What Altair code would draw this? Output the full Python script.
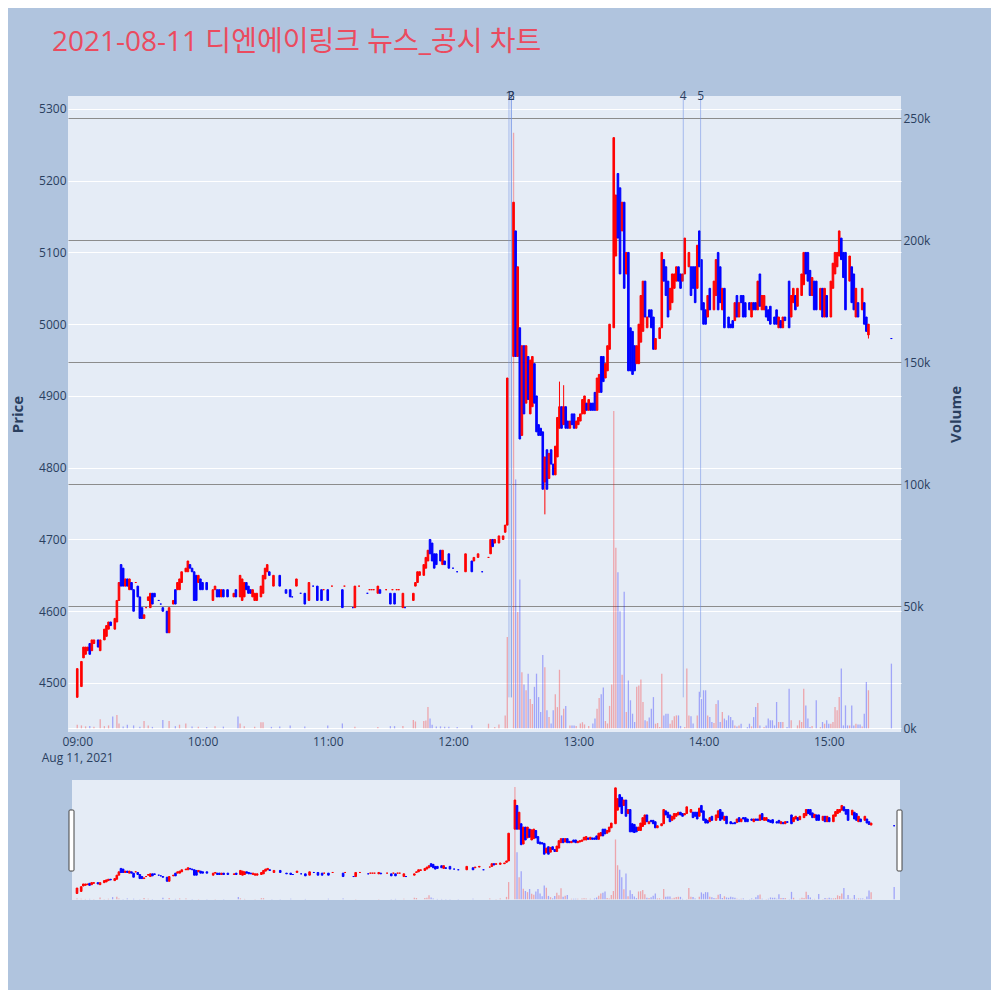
import altair as alt
import pandas as pd

TITLE = "2021-08-11 디엔에이링크 뉴스_공시 차트"

# ---- candles: minute after 09:00, open, close ----
candle_min = [
    0, 2, 3, 4, 5, 6, 7, 8, 10, 11,
    13, 14, 15, 16, 18, 19, 20, 21, 22, 23,
    24, 25, 26, 27, 28, 29, 30, 31, 32, 33,
    34, 35, 36, 37, 39, 40, 41, 43, 44, 46,
    47, 48, 49, 50, 52, 53, 54, 55, 56, 57,
    58, 59, 60, 62, 65, 66, 67, 68, 69, 70,
    72, 75, 76, 78, 79, 80, 81, 82, 83, 84,
    85, 86, 88, 89, 90, 91, 92, 94, 97, 100,
    102, 103, 105, 107, 109, 111, 113, 115, 117, 118,
    120, 122, 127, 128, 132, 133, 135, 139, 140, 141,
    142, 144, 145, 148, 150, 151, 152, 153, 154, 156,
    157, 161, 162, 163, 164, 166, 167, 168, 169, 170,
    171, 172, 174, 175, 176, 178, 180, 182, 186, 189,
    190, 192, 194, 197, 198, 199, 200, 202, 204, 205,
    206, 209, 210, 211, 212, 213, 214, 215, 216, 217,
    218, 219, 220, 221, 222, 223, 224, 225, 226, 227,
    228, 229, 230, 231, 232, 233, 234, 235, 236, 237,
    238, 239, 240, 241, 242, 243, 244, 245, 246, 247,
    248, 249, 250, 251, 252, 253, 254, 255, 257, 258,
    259, 260, 261, 262, 263, 264, 265, 266, 267, 268,
    269, 270, 271, 272, 273, 274, 275, 276, 277, 279,
    280, 281, 282, 283, 284, 285, 286, 287, 288, 289,
    290, 291, 293, 294, 295, 296, 297, 298, 299, 300,
    301, 302, 303, 305, 306, 307, 308, 309, 310, 312,
    313, 314, 315, 316, 317, 318, 319, 320, 322, 323,
    324, 325, 326, 327, 328, 329, 330, 331, 332, 334,
    335, 336, 337, 338, 339, 341, 342, 343, 344, 345,
    347, 348, 349, 350, 351, 352, 353, 354, 356, 357,
    358, 359, 361, 362, 363, 364, 365, 366, 367, 368,
    370, 371, 372, 373, 374, 376, 377, 378, 379, 390,
]
candle_open = [
    4480, 4495, 4535, 4540, 4545, 4555, 4545, 4555, 4560, 4545,
    4560, 4565, 4575, 4585, 4575, 4585, 4615, 4665, 4660, 4635,
    4645, 4630, 4640, 4630, 4640, 4635, 4620, 4605, 4590, 4605,
    4615, 4605, 4625, 4625, 4615, 4610, 4605, 4600, 4570, 4610,
    4630, 4630, 4630, 4640, 4655, 4655, 4665, 4660, 4655, 4650,
    4640, 4645, 4640, 4640, 4615, 4630, 4630, 4630, 4620, 4630,
    4630, 4620, 4630, 4620, 4615, 4620, 4640, 4635, 4630, 4620,
    4615, 4615, 4620, 4625, 4645, 4655, 4655, 4635, 4650, 4630,
    4630, 4620, 4635, 4625, 4625, 4615, 4635, 4635, 4630, 4630,
    4630, 4635, 4630, 4635, 4605, 4605, 4635, 4625, 4630, 4630,
    4630, 4625, 4630, 4630, 4625, 4630, 4625, 4630, 4630, 4605,
    4605, 4615, 4635, 4640, 4650, 4650, 4660, 4670, 4700, 4695,
    4680, 4680, 4685, 4665, 4670, 4680, 4660, 4655, 4655, 4670,
    4670, 4675, 4655, 4675, 4680, 4700, 4695, 4695, 4700, 4710,
    4720, 4955, 5130, 4955, 4995, 4845, 4970, 4890, 4955, 4875,
    4885, 4945, 4900, 4860, 4855, 4850, 4780, 4825, 4785, 4825,
    4805, 4790, 4815, 4855, 4885, 4860, 4885, 4865, 4855, 4875,
    4875, 4855, 4860, 4865, 4875, 4875, 4890, 4880, 4890, 4890,
    4905, 4880, 4905, 4955, 4955, 4925, 4935, 4965, 4995, 5095,
    5210, 5190, 5130, 5170, 5070, 5100, 4995, 4990, 4970, 4945,
    4945, 4975, 4990, 5060, 4995, 5020, 5020, 5010, 4965, 4980,
    4995, 5090, 5080, 5060, 5020, 5030, 5050, 5060, 5080, 5070,
    5060, 5070, 5080, 5080, 5080, 5080, 5050, 5130, 5090, 5030,
    5020, 5010, 5050, 5020, 5040, 5100, 5080, 5020, 5050, 5010,
    5000, 5005, 5005, 5040, 5010, 5040, 5040, 5030, 5030, 5010,
    5030, 5030, 5020, 5070, 5020, 5020, 5025, 5020, 5025, 5010,
    5020, 4995, 5005, 4995, 5010, 5060, 5010, 5030, 5040, 5025,
    5040, 5055, 5100, 5100, 5075, 5040, 5060, 5060, 5020, 5050,
    5010, 5040, 5010, 5050, 5070, 5080, 5095, 5120, 5100, 5100,
    5060, 5080, 5070, 5010, 5030, 5020, 5030, 5010, 4985, 4980,
]
candle_close = [
    4520, 4530, 4550, 4550, 4550, 4540, 4560, 4560, 4550, 4560,
    4575, 4580, 4585, 4580, 4590, 4615, 4640, 4635, 4635, 4645,
    4635, 4645, 4630, 4600, 4640, 4620, 4590, 4590, 4595, 4605,
    4620, 4625, 4610, 4620, 4615, 4610, 4600, 4570, 4605, 4615,
    4610, 4640, 4645, 4655, 4660, 4670, 4660, 4655, 4615, 4615,
    4650, 4630, 4630, 4630, 4630, 4635, 4620, 4620, 4630, 4620,
    4620, 4625, 4620, 4650, 4645, 4640, 4630, 4625, 4625, 4630,
    4625, 4625, 4635, 4650, 4660, 4665, 4650, 4650, 4635, 4625,
    4620, 4620, 4645, 4625, 4610, 4640, 4635, 4615, 4615, 4630,
    4615, 4635, 4605, 4635, 4605, 4635, 4635, 4625, 4630, 4630,
    4630, 4635, 4625, 4630, 4610, 4630, 4610, 4630, 4630, 4625,
    4605, 4625, 4640, 4655, 4655, 4665, 4675, 4685, 4680, 4670,
    4660, 4665, 4670, 4685, 4665, 4660, 4660, 4655, 4680, 4655,
    4675, 4680, 4655, 4675, 4700, 4690, 4700, 4705, 4705, 4720,
    4925, 5170, 4955, 5080, 4840, 4970, 4875, 4970, 4895, 4950,
    4955, 4890, 4850, 4845, 4845, 4770, 4815, 4770, 4820, 4805,
    4790, 4830, 4870, 4885, 4855, 4885, 4855, 4855, 4865, 4860,
    4855, 4865, 4870, 4875, 4895, 4900, 4880, 4895, 4880, 4880,
    4880, 4925, 4930, 4905, 4920, 4945, 4970, 5000, 5260, 5180,
    5120, 5070, 5170, 5050, 5100, 4935, 4935, 4930, 4935, 4970,
    5000, 5040, 5060, 5010, 5010, 5010, 4995, 4965, 4980, 4995,
    5100, 5060, 5040, 5010, 5050, 5070, 5070, 5080, 5060, 5050,
    5070, 5120, 5100, 5040, 5050, 5030, 5110, 5080, 5020, 5000,
    5000, 5040, 5020, 5060, 5090, 5020, 5030, 5050, 4995, 4995,
    4995, 4995, 5030, 5010, 5030, 5030, 5010, 5010, 5020, 5030,
    5020, 5020, 5060, 5025, 5040, 5040, 5010, 5005, 5000, 5000,
    5000, 5010, 4995, 5010, 5005, 4995, 5040, 5050, 5020, 5050,
    5070, 5100, 5070, 5060, 5040, 5065, 5020, 5020, 5050, 5010,
    5050, 5010, 5060, 5085, 5100, 5100, 5130, 5090, 5065, 5020,
    5095, 5030, 5020, 5050, 5010, 5050, 5000, 4990, 5000, 4980,
]

# visible wicks
wick_min = [224, 231, 233, 379]
wick_low = [4735, 4855, 4860, 4980]
wick_high = [4815, 4920, 4915, 5000]

# ---- volume per minute ----
vol_min = [
    0, 2, 4, 6, 8, 11, 13, 15, 17, 19,
    20, 22, 24, 27, 30, 32, 34, 36, 41, 44,
    47, 49, 52, 55, 58, 62, 66, 70, 77, 78,
    80, 85, 88, 89, 93, 97, 102, 109, 120, 127,
    133, 144, 150, 152, 156, 161, 162, 166, 167, 168,
    169, 170, 172, 174, 176, 178, 182, 189, 197, 200,
    202, 205, 206,
    209, 210, 211, 212, 213, 214, 215, 216, 217, 218,
    219, 220, 221, 222, 223, 224, 225, 226, 227, 228,
    229, 230, 231, 232, 233, 234, 236, 237, 238, 239,
    241, 242, 243, 245, 247, 248, 249, 250, 251, 252,
    253, 254, 255, 256, 257, 258, 259, 260, 261, 262,
    263, 264, 265, 266, 267, 268, 269, 270, 271, 272,
    273, 274, 275, 276, 277, 278, 279, 280, 281, 282,
    283, 284, 285, 286, 287, 288, 289, 291, 292, 293,
    294, 295, 297, 298, 299, 300, 301, 302, 303, 304,
    305, 306, 307, 308, 309, 310, 311, 312, 313, 314,
    315, 316, 317, 318, 321, 322, 323, 324, 325, 326,
    327, 329, 330, 331, 332, 333, 334, 335, 336, 337,
    338, 340, 341, 342, 345, 346, 347, 348, 349, 350,
    351, 352, 354, 356, 357, 358, 359, 360, 361, 362,
    363, 364, 365, 366, 367, 368, 369, 370, 371, 372,
    373, 374, 375, 376, 377, 378, 379, 390,
]
vol_val = [
    1500, 1200, 800, 1000, 700, 3700, 900, 1200, 4800, 5500,
    2000, 800, 1500, 1200, 700, 3000, 1200, 600, 3400, 3000,
    900, 1500, 2000, 800, 600, 500, 900, 700, 4800, 2000,
    900, 600, 2500, 2500, 600, 800, 1200, 800, 1200, 2000,
    600, 500, 900, 900, 1000, 3400, 2800, 3000, 3200, 8700,
    4000, 1500, 800, 800, 700, 700, 500, 1300, 1900, 500,
    1600, 5300, 37400,
    244000, 102000, 47700, 61000, 23000, 18000, 15600, 22400, 12000, 10000,
    17000, 22400, 12800, 6700, 30000, 25000, 7400, 4600, 2000, 7400,
    14000, 8700, 24000, 5300, 8000, 9200, 1200, 1200, 1200, 1000,
    2000, 2500, 1600, 1000, 2000, 4000, 8000, 12400, 14000, 16700,
    3000, 2000, 9200, 18000, 130000, 74000, 64000, 48000, 22000, 56000,
    6700, 19600, 11500, 6000, 2600, 17000, 17600, 20000, 10800, 3300,
    2900, 4400, 8000, 12800, 1900, 2200, 500, 22400, 5300, 6000,
    6000, 1900, 3300, 5000, 5300, 5300, 1000, 500, 24500, 5300,
    5000, 2000, 5300, 15000, 12000, 15600, 15600, 5300, 4600, 2600,
    2200, 10000, 11500, 2600, 6700, 4000, 3300, 5300, 4600, 3300,
    1200, 800, 1200, 1900, 500, 1900, 800, 4600, 8700, 10400,
    1200, 500, 1200, 4000, 3300, 3300, 1200, 10800, 2600, 2600,
    2600, 500, 16200, 3300, 1200, 3300, 2600, 16200, 9400, 4000,
    500, 1000, 11500, 500, 2600, 1900, 3300, 1900, 1900, 2600,
    8700, 7400, 12800, 24500, 1200, 9400, 1200, 1200, 9400, 1200,
    1900, 1600, 1600, 800, 6000, 19000, 15600, 26500,
]

# ---- news / disclosure markers ----
news_min = [206.8, 207.9, 208.0, 290.3, 298.6]
news_label = ["1", "2", "3", "4", "5"]

price_ticks = [4500, 4600, 4700, 4800, 4900, 5000, 5100, 5200, 5300]
vol_ticks = [0, 50000, 100000, 150000, 200000, 250000]
hour_ticks = [0, 60, 120, 180, 240, 300, 360]

X_DOMAIN = [-2.03, 392.2]
PRICE_DOMAIN = [4431.7, 5318]
VOL_DOMAIN = [-1500, 259100]
NEWS_LOW, NEWS_HIGH = 4480, 5318

UP, DOWN = "#FF0000", "#0000FF"
INK = "#2a3f5f"
FONT = "Open Sans"
TITLE_FONT = "Open Sans, Noto Sans CJK KR"

# ---- tables ----
dirs = []
prev_c, prev_d = None, "up"
for o, c in zip(candle_open, candle_close):
    if c > o:
        d = "up"
    elif c < o:
        d = "down"
    elif prev_c is not None and c > prev_c:
        d = "up"
    elif prev_c is not None and c < prev_c:
        d = "down"
    else:
        d = prev_d
    dirs.append(d)
    prev_c, prev_d = c, d

cd = pd.DataFrame({"m": candle_min, "o": candle_open, "c": candle_close, "dir": dirs})
wd = pd.DataFrame({"m": wick_min, "o": wick_low, "c": wick_high}).merge(cd[["m", "dir"]], on="m")
vd = pd.DataFrame({"m": vol_min, "v": vol_val}).sort_values("m")
vd = pd.merge_asof(vd, cd[["m", "dir"]].sort_values("m"), on="m", direction="nearest")
nd = pd.DataFrame({"m": news_min, "label": news_label,
                   "o": [NEWS_LOW] * len(news_min), "c": [NEWS_HIGH] * len(news_min)})
td = pd.DataFrame({"t": [TITLE]})
one = pd.DataFrame({"k": [0]})

cscale = alt.Scale(domain=["up", "down"], range=[UP, DOWN])
xs = alt.Scale(domain=X_DOMAIN, nice=False, zero=False)
ps = alt.Scale(domain=PRICE_DOMAIN, nice=False, zero=False)
vs = alt.Scale(domain=VOL_DOMAIN, nice=False, zero=False)

x_axis = alt.Axis(
    values=hour_ticks, title=None, grid=False, domain=False, ticks=False,
    labelPadding=4, labelLineHeight=16, labelFontSize=12, labelColor=INK, labelFont=FONT,
    labelExpr="datum.value == 0 ? ['09:00', 'Aug 11, 2021'] : format(9 + datum.value / 60, '02d') + ':00'",
)
price_axis = alt.Axis(
    orient="left", values=price_ticks, format="d", title="Price",
    grid=True, gridColor="white", gridWidth=1, domain=False, ticks=False,
    labelPadding=2, labelFontSize=12, labelColor=INK, labelFont=FONT,
    titleFontSize=15, titleFontWeight="bold", titleColor=INK, titleFont=FONT,
    titleAngle=270, titleBaseline="bottom", titleAlign="center", titleX=-43, titleY=318,
)
vol_axis = alt.Axis(
    orient="right", values=vol_ticks, format="~s", title="Volume",
    grid=True, gridWidth=1,
    gridColor={"condition": {"test": "datum.value === 0", "value": "#ffffff"}, "value": "#8c8c8c"},
    domain=False, ticks=False,
    labelPadding=2, labelFontSize=12, labelColor=INK, labelFont=FONT,
    titleFontSize=15, titleFontWeight="bold", titleColor=INK, titleFont=FONT,
    titleAngle=270, titleBaseline="bottom", titleAlign="center", titleX=62, titleY=318,
)

X = alt.X("m:Q", scale=xs, axis=x_axis, title=None)
PY = alt.Y("o:Q", scale=ps, axis=price_axis, title="Price")
PY2 = alt.Y2("c:Q")

# ---- main panel ----
vol_layer = alt.Chart(vd).mark_bar(size=1.3, opacity=0.3).encode(
    x=X,
    y=alt.Y("v:Q", scale=vs, axis=vol_axis, title="Volume"),
    y2=alt.datum(0),
    color=alt.Color("dir:N", scale=cscale, legend=None),
)
wicks = alt.Chart(wd).mark_rule(strokeWidth=1).encode(
    x=X, y=PY, y2=PY2,
    color=alt.Color("dir:N", scale=cscale, legend=None),
)
candles = alt.Chart(cd).mark_bar(size=1.6, strokeWidth=1).encode(
    x=X, y=PY, y2=PY2,
    fill=alt.Fill("dir:N", scale=cscale, legend=None),
    stroke=alt.Stroke("dir:N", scale=cscale, legend=None),
)
news_rules = alt.Chart(nd).mark_rule(color="#6f8fe6", opacity=0.55, strokeWidth=1).encode(
    x=X, y=PY, y2=PY2,
)
news_text = alt.Chart(nd).mark_text(fontSize=12, color=INK, font=FONT, baseline="middle").encode(
    x=X,
    y=alt.Y("c:Q", scale=ps, axis=price_axis, title="Price"),
    text="label:N",
)
title_text = alt.Chart(td).mark_text(
    fontSize=28, color="#EB4B5F", font=TITLE_FONT, align="left", baseline="alphabetic"
).encode(x=alt.value(-16), y=alt.value(-45), text="t:N")

price_layer = alt.layer(wicks, candles, news_rules, news_text, title_text)
main = alt.layer(vol_layer, price_layer).resolve_scale(y="independent").properties(
    width=833, height=636
)

# ---- range slider panel ----
xs_s = alt.Scale(domain=[0, 390.4], range=[4, 832], nice=False, zero=False)
s_bg = alt.Chart(one).mark_rect(color="#E5ECF6").encode(
    x=alt.value(4), x2=alt.value(832), y=alt.value(0), y2=alt.value(120)
)
s_vol = alt.Chart(vd).mark_bar(size=1.3, opacity=0.3).encode(
    x=alt.X("m:Q", scale=xs_s, axis=None),
    y=alt.Y("v:Q", scale=vs, axis=None),
    y2=alt.datum(0),
    color=alt.Color("dir:N", scale=cscale, legend=None),
)
s_candles = alt.Chart(cd).mark_bar(size=1.6, strokeWidth=1).encode(
    x=alt.X("m:Q", scale=xs_s, axis=None),
    y=alt.Y("o:Q", scale=ps, axis=None),
    y2="c:Q",
    fill=alt.Fill("dir:N", scale=cscale, legend=None),
    stroke=alt.Stroke("dir:N", scale=cscale, legend=None),
)
h_left = alt.Chart(one).mark_rect(fill="white", stroke="#444444", strokeWidth=1, cornerRadius=1).encode(
    x=alt.value(1), x2=alt.value(6), y=alt.value(30), y2=alt.value(91)
)
h_right = alt.Chart(one).mark_rect(fill="white", stroke="#444444", strokeWidth=1, cornerRadius=1).encode(
    x=alt.value(829), x2=alt.value(834), y=alt.value(30), y2=alt.value(91)
)
slider = alt.layer(s_bg, s_vol, s_candles, h_left, h_right).resolve_scale(y="independent").properties(
    width=833, height=120, view=alt.ViewBackground(fill="transparent", strokeWidth=0)
)

chart = alt.vconcat(main, slider, spacing=48, bounds="flush").properties(
    padding={"left": 2, "top": 21, "right": 28, "bottom": 90},
    background="#B0C4DE",
).configure_view(fill="#E5ECF6", strokeWidth=0)

chart.save("out.html", embed_options={"renderer": "svg", "actions": False})
